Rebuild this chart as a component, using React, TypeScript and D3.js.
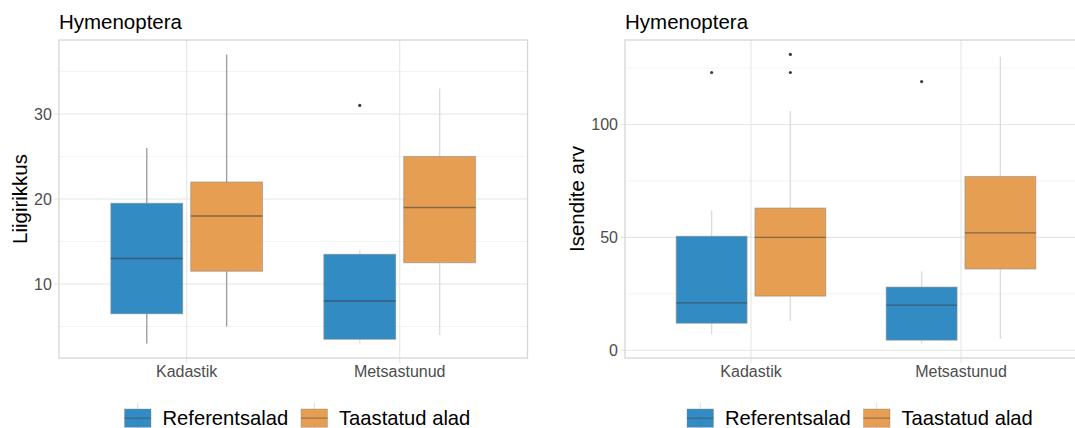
import React from "react";
import * as d3 from "d3";

const categories = ["Kadastik", "Metsastunud"];
const groups = ["Referentsalad", "Taastatud alad"];
const groupColors = ["#1C7EBD", "#E3943F"];

// [whiskerLow, q1, median, q3, whiskerHigh] per category
const richnessReferents = [[3, 6.5, 13, 19.5, 26], [3, 3.5, 8, 13.5, 14]];
const richnessTaastatud = [[5, 11.5, 18, 22, 37], [4, 12.5, 19, 25, 33]];
const richnessOutliersReferents = [[], [31]];
const richnessOutliersTaastatud = [[], []];
const richnessTicks = [10, 20, 30];
const richnessMinor = [5, 15, 25, 35];

const abundanceReferents = [[7, 12, 21, 50.5, 62], [3, 4.5, 20, 28, 35]];
const abundanceTaastatud = [[13, 24, 50, 63, 106], [5, 36, 52, 77, 130]];
const abundanceOutliersReferents = [[123], [119]];
const abundanceOutliersTaastatud = [[131, 123], []];
const abundanceTicks = [0, 50, 100];
const abundanceMinor = [25, 75, 125];

const FONT = "'Liberation Sans', Arial, Helvetica, sans-serif";

type PanelProps = {
  x0: number;
  x1: number;
  y0: number;
  y1: number;
  title: string;
  yTitle: string;
  yTitleX: number;
  stats: number[][][];
  outliers: number[][][];
  ticks: number[];
  minor: number[];
  whiskerColors: string[][];
  legendX: number;
};

function Panel(p: PanelProps) {
  const all: number[] = [];
  p.stats.forEach((g) => g.forEach((s) => all.push(...s)));
  p.outliers.forEach((g) => g.forEach((o) => all.push(...o)));
  const [mn, mx] = d3.extent(all) as [number, number];
  const pad = (mx - mn) * 0.05;
  const y = d3.scaleLinear().domain([mn - pad, mx + pad]).range([p.y1, p.y0]);
  const x = d3.scaleLinear().domain([0.4, 2.6]).range([p.x0, p.x1]);
  const unit = x(2) - x(1);
  const boxW = (0.75 / 2) * 0.9 * unit;
  const offset = (0.75 / 4) * unit;
  const clipId = "clip" + Math.round(p.x0);

  return (
    <g>
      <defs>
        <clipPath id={clipId}>
          <rect x={p.x0} y={p.y0} width={p.x1 - p.x0} height={p.y1 - p.y0} />
        </clipPath>
      </defs>
      <text x={p.x0} y={28.5} fontFamily={FONT} fontSize={20.5} fill="#000">
        {p.title}
      </text>
      {/* grid */}
      {p.minor.map((v) => (
        <line key={"mi" + v} x1={p.x0} x2={p.x1} y1={y(v)} y2={y(v)} stroke="#F3F3F3" strokeWidth={1} />
      ))}
      {p.ticks.map((v) => (
        <line key={"ma" + v} x1={p.x0 - 5} x2={p.x1} y1={y(v)} y2={y(v)} stroke="#E6E6E6" strokeWidth={1.1} />
      ))}
      {categories.map((c, i) => (
        <line key={"vx" + c} x1={x(i + 1)} x2={x(i + 1)} y1={p.y0} y2={p.y1 + 5} stroke="#E6E6E6" strokeWidth={1.1} />
      ))}
      {/* boxes */}
      <g clipPath={`url(#${clipId})`}>
        {categories.map((c, ci) =>
          groups.map((g, gi) => {
            const s = p.stats[gi][ci];
            const cx = x(ci + 1) + (gi === 0 ? -offset : offset);
            const wc = p.whiskerColors[gi][ci];
            return (
              <g key={c + g}>
                <line x1={cx} x2={cx} y1={y(s[3])} y2={y(s[4])} stroke={wc} strokeWidth={1.4} />
                <line x1={cx} x2={cx} y1={y(s[1])} y2={y(s[0])} stroke={wc} strokeWidth={1.4} />
                <rect
                  x={cx - boxW / 2}
                  y={y(s[3])}
                  width={boxW}
                  height={y(s[1]) - y(s[3])}
                  fill={groupColors[gi]}
                  fillOpacity={0.9}
                  stroke="#8a8a8a"
                  strokeOpacity={0.55}
                  strokeWidth={1}
                />
                <line
                  x1={cx - boxW / 2}
                  x2={cx + boxW / 2}
                  y1={y(s[2])}
                  y2={y(s[2])}
                  stroke="#3a3a3a"
                  strokeOpacity={0.55}
                  strokeWidth={1.4}
                />
                {p.outliers[gi][ci].map((o, oi) => (
                  <circle key={oi} cx={cx} cy={y(o)} r={1.6} fill="#3a3a3a" />
                ))}
              </g>
            );
          })
        )}
      </g>
      {/* panel border */}
      <rect x={p.x0} y={p.y0} width={p.x1 - p.x0} height={p.y1 - p.y0} fill="none" stroke="#D6D6D6" strokeWidth={1.3} />
      {/* y tick labels */}
      {p.ticks.map((v) => (
        <text
          key={"yl" + v}
          x={p.x0 - 7}
          y={y(v)}
          dy="0.35em"
          textAnchor="end"
          fontFamily={FONT}
          fontSize={16}
          fill="#4D4D4D"
        >
          {v}
        </text>
      ))}
      {/* x tick labels */}
      {categories.map((c, i) => (
        <text
          key={"xl" + c}
          x={x(i + 1)}
          y={377}
          textAnchor="middle"
          fontFamily={FONT}
          fontSize={16}
          fill="#4D4D4D"
        >
          {c}
        </text>
      ))}
      {/* y title */}
      <text
        transform={`translate(${p.yTitleX},${(p.y0 + p.y1) / 2}) rotate(-90)`}
        textAnchor="middle"
        fontFamily={FONT}
        fontSize={20.5}
        fill="#000"
      >
        {p.yTitle}
      </text>
      {/* legend */}
      {groups.map((g, gi) => {
        const kx = p.legendX + gi * 176.5;
        const ky = 409;
        const kw = 26.5;
        const kh = 18.3;
        return (
          <g key={"lg" + g}>
            <line x1={kx + kw / 2} x2={kx + kw / 2} y1={403} y2={430} stroke="#DDDDDD" strokeWidth={1} />
            <rect x={kx} y={ky} width={kw} height={kh} fill={groupColors[gi]} fillOpacity={0.9} stroke="#8a8a8a" strokeOpacity={0.4} strokeWidth={1} />
            <line x1={kx} x2={kx + kw} y1={ky + kh / 2} y2={ky + kh / 2} stroke="#3a3a3a" strokeOpacity={0.45} strokeWidth={1.2} />
            <text x={kx + 38} y={425} fontFamily={FONT} fontSize={20.2} fill="#000">
              {g}
            </text>
          </g>
        );
      })}
    </g>
  );
}

export default function App() {
  return (
    <svg
      width={1075}
      height={428}
      style={{ position: "absolute", left: 0, top: 0, background: "#fff" }}
    >
      <rect x={0} y={0} width={1075} height={428} fill="#fff" />
      <Panel
        x0={58.9}
        x1={527.5}
        y0={40}
        y1={358}
        title="Hymenoptera"
        yTitle="Liigirikkus"
        yTitleX={27}
        stats={[richnessReferents, richnessTaastatud]}
        outliers={[richnessOutliersReferents, richnessOutliersTaastatud]}
        ticks={richnessTicks}
        minor={richnessMinor}
        whiskerColors={[
          ["#A0A0A0", "#E2E2E2"],
          ["#A0A0A0", "#DCDCDC"],
        ]}
        legendX={124.5}
      />
      <Panel
        x0={625}
        x1={1087}
        y0={40}
        y1={358}
        title="Hymenoptera"
        yTitle="Isendite arv"
        yTitleX={584}
        stats={[abundanceReferents, abundanceTaastatud]}
        outliers={[abundanceOutliersReferents, abundanceOutliersTaastatud]}
        ticks={abundanceTicks}
        minor={abundanceMinor}
        whiskerColors={[
          ["#DCDCDC", "#DCDCDC"],
          ["#DCDCDC", "#DCDCDC"],
        ]}
        legendX={687}
      />
    </svg>
  );
}
